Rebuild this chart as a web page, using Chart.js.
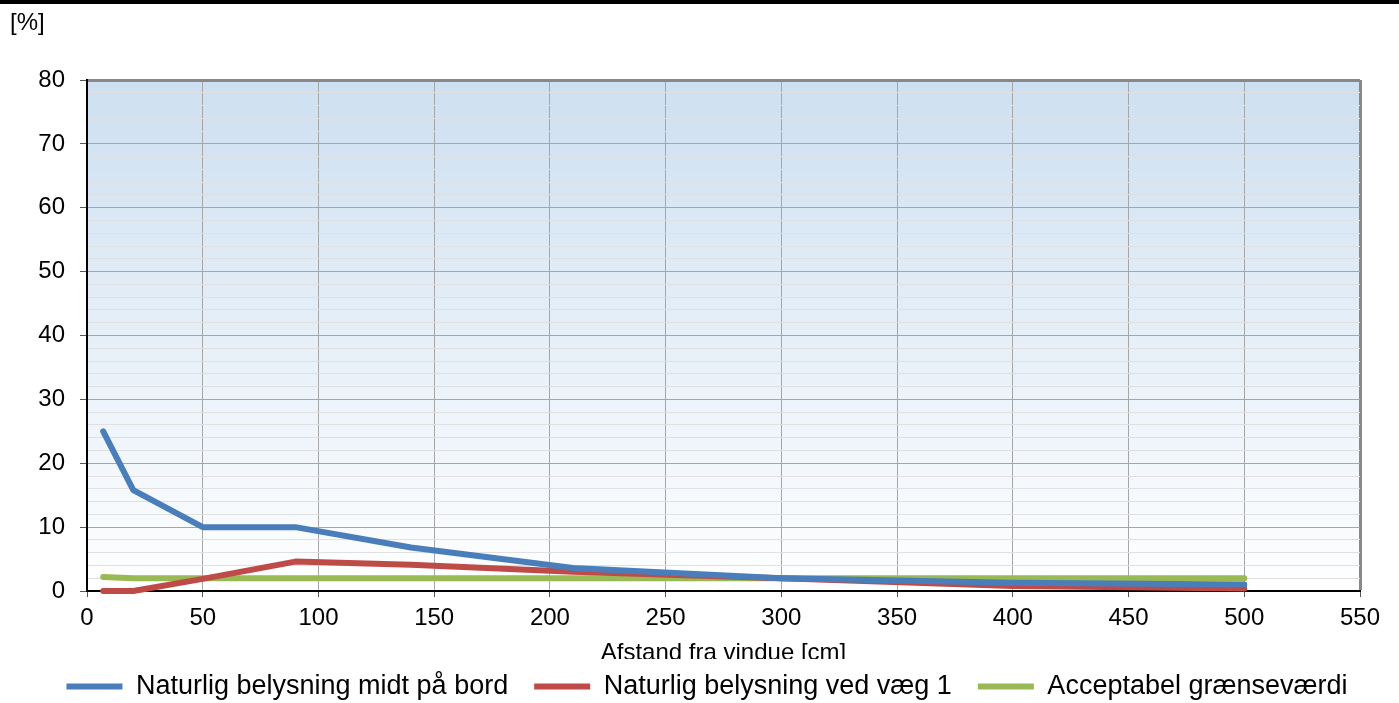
<!DOCTYPE html>
<html>
<head>
<meta charset="utf-8">
<script src="https://cdn.jsdelivr.net/npm/chart.js@4.4.0/dist/chart.umd.min.js"></script>
<style>
  body { margin: 0; background: #fff; }
  #wrap { width: 1399px; height: 703px; }
</style>
</head>
<body>
<div id="wrap"><canvas id="chart" width="1399" height="703"></canvas></div>
<script>
    // data
    var afstand = [7, 20, 50, 90, 140, 210, 300, 400, 500];
    var midtPaaBord = [25, 15.8, 10, 10, 6.8, 3.6, 2.0, 1.3, 1.0];
    var vedVaeg1 = [0, 0, 1.9, 4.6, 4.1, 3.0, 2.0, 0.8, 0.4];
    var graensevaerdi = [2.2, 2.0, 2.0, 2.0, 2.0, 2.0, 2.0, 2.0, 2.0];
    var serieNavne = ['Naturlig belysning midt på bord', 'Naturlig belysning ved væg 1', 'Acceptabel grænseværdi'];
    var serieFarver = ['#4a7ebb', '#be4b48', '#98b954'];
    var xMax = 550, xStep = 50;
    var yMax = 80, yStep = 10, yMinorStep = 2;

    function points(values) {
        return values.map(function (v, i) { return {x: afstand[i], y: v}; });
    }

    function dataset(i, values) {
        return {
            label: serieNavne[i],
            data: points(values),
            borderColor: serieFarver[i],
            backgroundColor: serieFarver[i],
            borderWidth: 6,
            borderCapStyle: 'round',
            borderJoinStyle: 'round',
            pointRadius: 0,
            tension: 0,
            clip: false
        };
    }

    Chart.defaults.font.family = '"Liberation Sans", Arial, sans-serif';
    Chart.defaults.color = '#000';

    var plotBackground = {
        id: 'plotBackground',
        beforeDraw: function (chart) {
            var a = chart.chartArea, ctx = chart.ctx;
            ctx.save();
            ctx.fillStyle = '#000';
            ctx.fillRect(0, 0, chart.width, 4);
            var g = ctx.createLinearGradient(0, a.top, 0, a.bottom);
            g.addColorStop(0, '#cddff1');
            g.addColorStop(1, '#ffffff');
            ctx.fillStyle = g;
            ctx.fillRect(a.left, a.top, a.right - a.left, a.bottom - a.top);
            ctx.restore();
        }
    };

    // legend sits over the bottom of the axis title, like in the original
    var legendOverTitle = {
        id: 'legendOverTitle',
        afterDraw: function (chart) {
            var ctx = chart.ctx;
            ctx.save();
            ctx.fillStyle = '#fff';
            ctx.fillRect(0, 659, chart.width, chart.height - 659);
            ctx.translate(22, 0);
            chart.legend.draw();
            ctx.restore();
        }
    };

    var chart = new Chart('chart', {
        type: 'line',
        data: {
            datasets: [
                dataset(0, midtPaaBord),
                dataset(1, vedVaeg1),
                dataset(2, graensevaerdi)
            ]
        },
        options: {
            responsive: false,
            animation: false,
            layout: {padding: {left: 10, right: 39, top: 0, bottom: -7}},
            scales: {
                x: {
                    type: 'linear',
                    min: 0,
                    max: xMax,
                    ticks: {stepSize: xStep, padding: 7, font: {size: 24}, maxRotation: 0},
                    grid: {
                        color: function (c) { return c.tick && c.tick.value === xMax ? '#888888' : '#a6a6a6'; },
                        lineWidth: function (c) { return c.tick && c.tick.value === xMax ? 3 : 1; },
                        tickColor: '#555',
                        tickWidth: 1,
                        tickLength: 6
                    },
                    border: {color: '#000', width: 2},
                    title: {
                        display: true,
                        text: 'Afstand fra vindue [cm]',
                        font: {size: 24},
                        padding: {top: 0, bottom: -20.4}
                    },
                    afterFit: function (scale) { scale.height = 56; }
                },
                y: {
                    min: 0,
                    max: yMax,
                    ticks: {
                        stepSize: yMinorStep,
                        autoSkip: false,
                        padding: 15,
                        font: {size: 24},
                        callback: function (v) { return v % yStep === 0 ? v : ''; }
                    },
                    grid: {
                        color: function (c) {
                            var v = c.tick ? c.tick.value : 0;
                            if (v === yMax) return '#888888';
                            return v % yStep === 0 ? '#a6a6a6' : '#e0e0e0';
                        },
                        lineWidth: function (c) { return c.tick && c.tick.value === yMax ? 3 : 1; },
                        tickColor: function (c) { return c.tick && c.tick.value % yStep === 0 ? '#555' : 'rgba(0,0,0,0)'; },
                        tickWidth: 1,
                        tickLength: 7
                    },
                    border: {color: '#000', width: 2},
                    afterFit: function (scale) { scale.width = 77; }
                }
            },
            plugins: {
                title: {
                    display: true,
                    text: '[%]',
                    align: 'start',
                    color: '#000',
                    font: {size: 24, weight: 'normal'},
                    padding: {top: 9, bottom: 42.2}
                },
                legend: {
                    position: 'bottom',
                    labels: {
                        usePointStyle: true,
                        pointStyle: 'line',
                        pointStyleWidth: 56,
                        padding: 26,
                        color: '#000',
                        font: {size: 27}
                    }
                },
                tooltip: {enabled: false}
            }
        },
        plugins: [plotBackground, legendOverTitle]
    });
</script>
</body>
</html>
